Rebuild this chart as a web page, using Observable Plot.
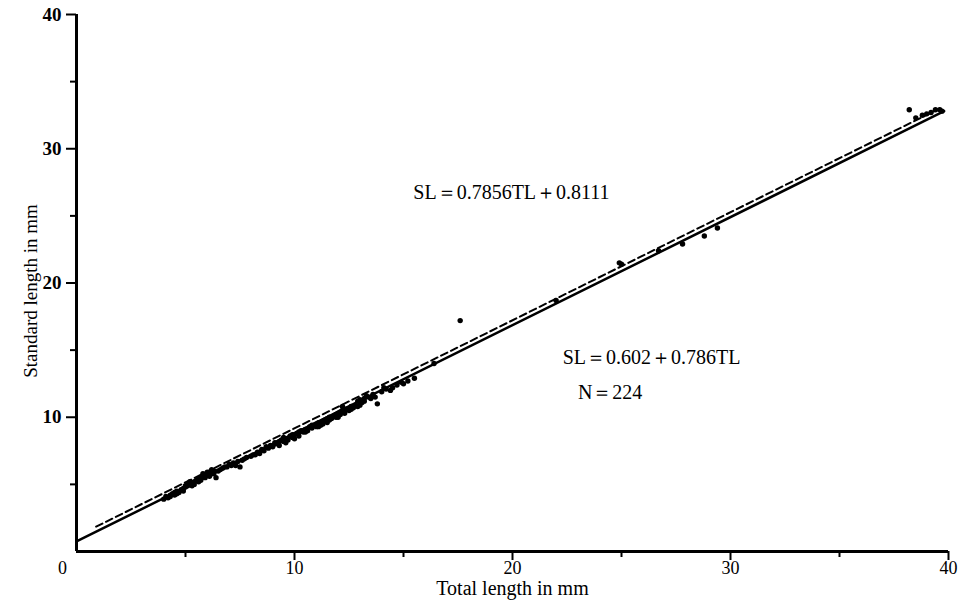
<!DOCTYPE html>
<html>
<head>
<meta charset="utf-8">
<script src="https://cdn.jsdelivr.net/npm/d3@7"></script>
<script src="https://cdn.jsdelivr.net/npm/@observablehq/plot@0.6"></script>
<style>
  html, body { margin: 0; padding: 0; background: #fff; }
</style>
</head>
<body>
<div id="chart"></div>
<script>
// Total length (mm) of each fish
const tl = [
  4.0, 4.1, 4.2, 4.3, 4.4, 4.5, 4.5, 4.6, 4.7, 4.8, 4.9, 5.0, 5.0, 5.1, 5.2, 5.3, 5.3, 5.4, 5.5, 5.6,
  5.6, 5.7, 5.8, 5.9, 6.0, 6.0, 6.1, 6.2, 6.3, 6.4, 6.5, 6.6, 6.8, 7.0, 7.1, 7.2, 7.3, 7.5, 7.6, 7.8,
  8.0, 8.1, 8.3, 8.4, 8.5, 8.6, 8.8, 8.9, 9.0, 9.1, 9.2, 9.3, 9.4, 9.5, 9.6, 9.7, 9.8, 9.9, 10.0, 10.0,
  10.1, 10.2, 10.3, 10.4, 10.5, 10.6, 10.7, 10.8, 10.9, 11.0, 11.0, 11.1, 11.2, 11.3, 11.4, 11.5, 11.5, 11.6, 11.7, 11.8,
  11.9, 12.0, 12.0, 12.1, 12.2, 12.3, 12.4, 12.5, 12.6, 12.7, 12.8, 12.9, 13.0, 13.0, 13.1, 13.2, 13.4, 13.5, 13.6, 13.8,
  14.0, 14.2, 14.5, 14.7, 15.0, 15.2, 15.5, 16.4,
  4.3, 4.6, 4.9, 5.1, 5.4, 5.7, 5.8, 6.1, 6.3, 6.7, 6.9, 7.4, 7.7, 8.2, 8.7, 9.1, 9.3, 9.6, 9.9, 10.2,
  10.5, 10.8, 11.1, 11.3, 11.6, 11.9, 12.1, 12.3, 12.6, 12.9, 13.2, 13.3, 13.7, 14.1, 14.4, 14.9, 12.2, 9.5, 6.2, 5.2,
  17.6, 22.0, 24.9, 25.0, 26.7, 27.8, 28.8, 29.4,
  38.2, 38.5, 38.8, 39.0, 39.2, 39.4, 39.6, 39.7
];
// Standard length (mm) of each fish
const sl = [
  3.9, 4.1, 4.0, 4.2, 4.3, 4.4, 4.2, 4.5, 4.4, 4.6, 4.7, 4.8, 4.9, 4.9, 5.0, 5.1, 4.9, 5.2, 5.3, 5.2,
  5.4, 5.5, 5.6, 5.5, 5.7, 5.9, 5.9, 5.8, 6.0, 5.5, 6.0, 6.1, 6.3, 6.5, 6.4, 6.6, 6.4, 6.3, 6.8, 7.0,
  7.1, 7.2, 7.4, 7.3, 7.6, 7.5, 7.7, 7.9, 7.8, 8.0, 8.1, 7.9, 8.3, 8.2, 8.4, 8.3, 8.6, 8.5, 8.7, 8.4,
  8.8, 8.6, 9.0, 8.9, 9.1, 9.0, 9.3, 9.2, 9.4, 9.3, 9.5, 9.6, 9.4, 9.7, 9.8, 9.9, 9.6, 10.0, 9.9, 10.1,
  10.2, 10.3, 10.0, 10.4, 10.5, 10.3, 10.6, 10.5, 10.8, 10.7, 10.9, 11.2, 10.9, 11.3, 11.1, 11.4, 11.5, 11.4, 11.7, 11.0,
  11.9, 12.1, 12.2, 12.4, 12.5, 12.7, 12.9, 14.0,
  4.1, 4.3, 4.5, 5.0, 5.0, 5.3, 5.8, 5.6, 5.8, 6.2, 6.3, 6.7, 6.9, 7.2, 7.8, 8.1, 8.2, 8.1, 8.7, 8.9,
  8.9, 9.4, 9.3, 9.5, 9.8, 10.0, 10.2, 10.6, 10.6, 10.8, 11.2, 11.6, 11.5, 12.2, 12.0, 12.6, 10.8, 8.5, 6.1, 5.2,
  17.2, 18.7, 21.5, 21.4, 22.4, 22.9, 23.5, 24.1,
  32.9, 32.3, 32.5, 32.6, 32.7, 32.9, 32.9, 32.8
];
// Fitted lines (end points)
const solidTL = [0, 39.8];
const solidSL = [0.75, 32.8];
const dashedTL = [0.9, 39.6];
const dashedSL = [1.85, 33.0];

const majorTicks = [10, 20, 30, 40];
const minorTicks = [5, 15, 25, 35];
const originLabel = ["0"];
const xTitle = ["Total length in mm"];
const yTitle = ["Standard length in mm"];
const notes = ["SL\uFF1D0.7856TL\uFF0B0.8111", "SL\uFF1D0.602\uFF0B0.786TL", "N\uFF1D224"];
const noteTL = [15.45, 22.3, 23.0];
const noteSL = [26.7, 14.45, 11.85];

const points = tl.map((d, i) => ({tl: d, sl: sl[i]}));
const solid = solidTL.map((d, i) => ({tl: d, sl: solidSL[i]}));
const dashed = dashedTL.map((d, i) => ({tl: d, sl: dashedSL[i]}));
const noteData = notes.map((t, i) => ({text: t, tl: noteTL[i], sl: noteSL[i]}));

const chart = Plot.plot({
  width: 963,
  height: 602,
  marginLeft: 76,
  marginRight: 15,
  marginTop: 14,
  marginBottom: 51,
  x: {domain: [0, 40]},
  y: {domain: [0, 40]},
  style: {fontFamily: "'Liberation Serif', 'DejaVu Serif', serif", background: "#fff", color: "#000"},
  marks: [
    Plot.axisX({ticks: majorTicks, tickSize: 9, tickPadding: 1, fontSize: 18, label: null, strokeWidth: 2}),
    Plot.axisX({ticks: minorTicks, tickSize: 6, tickFormat: () => "", label: null, strokeWidth: 2}),
    Plot.axisY({ticks: majorTicks, tickSize: 10, tickPadding: 5, fontSize: 19, fontWeight: "bold", label: null, strokeWidth: 2}),
    Plot.axisY({ticks: minorTicks, tickSize: 6, tickFormat: () => "", label: null, strokeWidth: 2}),
    Plot.ruleY([0], {strokeWidth: 3}),
    Plot.ruleX([0], {strokeWidth: 3}),
    Plot.text(originLabel, {x: 0, y: 0, text: d => d, dx: -14, dy: 17, fontSize: 18}),
    Plot.line(solid, {x: "tl", y: "sl", stroke: "#000", strokeWidth: 2.5}),
    Plot.line(dashed, {x: "tl", y: "sl", stroke: "#000", strokeWidth: 2, strokeDasharray: "7,4"}),
    Plot.dot(points, {x: "tl", y: "sl", r: 2.7, fill: "#000", stroke: "none"}),
    Plot.text(noteData, {x: "tl", y: "sl", text: "text", textAnchor: "start", fontSize: 20}),
    Plot.text(xTitle, {frameAnchor: "bottom", text: d => d, dy: 37, lineAnchor: "middle", textAnchor: "middle", fontSize: 20}),
    Plot.text(yTitle, {frameAnchor: "left", text: d => d, dx: -46, dy: 8, rotate: -90, lineAnchor: "middle", textAnchor: "middle", fontSize: 19})
  ]
});
document.getElementById("chart").appendChild(chart);
</script>
</body>
</html>
